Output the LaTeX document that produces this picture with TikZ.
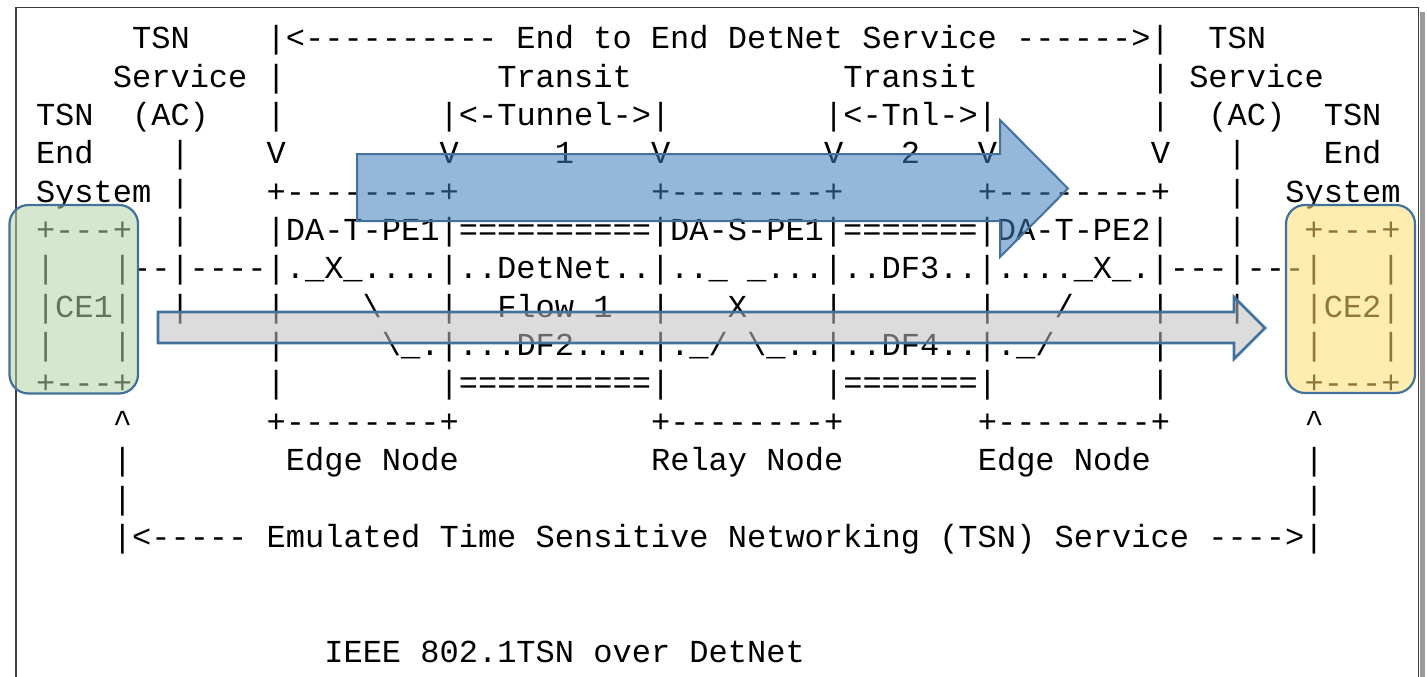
\documentclass[tikz,border=0pt]{standalone}
\usepackage{fontspec}
\setmonofont{Liberation Mono}
\definecolor{brd}{RGB}{65,113,156}
\definecolor{framec}{RGB}{60,60,60}
\definecolor{shadowc}{RGB}{155,155,155}
\definecolor{bluefill}{RGB}{62,126,188}
\definecolor{greyfill}{RGB}{192,192,192}
\definecolor{greenfill}{RGB}{179,213,164}
\definecolor{yellowfill}{RGB}{255,220,112}
\newcommand\gap[1]{\hspace*{\dimexpr#1\fontcharwd\font`A\relax}}
\tikzset{
  row/.style={anchor=base west, inner sep=0pt, outer sep=0pt,
    font=\ttfamily\fontsize{32.03}{38}\selectfont\frenchspacing},
  overlay/.style={draw=brd, line width=2.2pt, fill opacity=0.55, draw opacity=1},
}
\begin{document}
\begin{tikzpicture}[x=1pt,y=-1pt]
\useasboundingbox (0,0) rectangle (1427,677);
\clip (0,0) rectangle (1427,677);
% frame and shadow
\fill[shadowc] (1419.5,12) rectangle (1424.5,690);
\draw[framec, line width=1.5pt] (16,690) -- (16,7.5) -- (1418.5,7.5) -- (1418.5,690);
% text rows
\node[row] (r0) at (36,48.8) {\gap{5}TSN\gap{4}|<---------- End to End DetNet Service ------>|\gap{2}TSN};
\node[row] (r1) at (36,87.15) {\gap{4}Service\gap{1}|\gap{11}Transit\gap{11}Transit\gap{9}|\gap{1}Service};
\node[row] (r2) at (36,125.5) {TSN\gap{2}(AC)\gap{3}|\gap{8}|<-Tunnel->|\gap{8}|<-Tnl->|\gap{8}|\gap{2}(AC)\gap{2}TSN};
\node[row] (r3) at (36,163.85) {End\gap{4}|\gap{4}V\gap{8}V\gap{5}1\gap{4}V\gap{8}V\gap{3}2\gap{3}V\gap{8}V\gap{3}|\gap{4}End};
\node[row] (r4) at (36,202.2) {System\gap{1}|\gap{4}+--------+\gap{10}+--------+\gap{7}+--------+\gap{3}|\gap{2}System};
\node[row] (r5) at (36,240.55) {+---+\gap{2}|\gap{4}|DA-T-PE1|==========|DA-S-PE1|=======|DA-T-PE2|\gap{3}|\gap{3}+---+};
\node[row] (r6) at (36,278.9) {|\gap{3}|--|----|.\_X\_....|..DetNet..|..\_\gap{1}\_...|..DF3..|....\_X\_.|---|---|\gap{3}|};
\node[row] (r7) at (36,317.25) {|CE1|\gap{2}|\gap{4}|\gap{4}\textbackslash\gap{3}|\gap{2}Flow\gap{1}1\gap{2}|\gap{3}X\gap{4}|\gap{7}|\gap{3}/\gap{4}|\gap{3}|\gap{3}|CE2|};
\node[row] (r8) at (36,355.6) {|\gap{3}|\gap{7}|\gap{5}\textbackslash\_.|...DF2....|.\_/\gap{1}\textbackslash\_..|..DF4..|.\_/\gap{5}|\gap{7}|\gap{3}|};
\node[row] (r9) at (36,393.95) {+---+\gap{7}|\gap{8}|==========|\gap{8}|=======|\gap{8}|\gap{7}+---+};
\node[row] (r10) at (36,432.3) {\gap{4}\textasciicircum\gap{7}+--------+\gap{10}+--------+\gap{7}+--------+\gap{7}\textasciicircum};
\node[row] (r11) at (36,470.65) {\gap{4}|\gap{8}Edge\gap{1}Node\gap{10}Relay\gap{1}Node\gap{7}Edge\gap{1}Node\gap{8}|};
\node[row] (r12) at (36,509.0) {\gap{4}|\gap{61}|};
\node[row] (r13) at (36,547.35) {\gap{4}|<-----\gap{1}Emulated\gap{1}Time\gap{1}Sensitive\gap{1}Networking\gap{1}(TSN)\gap{1}Service\gap{1}---->|};
\node[row] (r16) at (36,662.4) {\gap{15}IEEE\gap{1}802.1TSN\gap{1}over\gap{1}DetNet};
% overlays
\draw[overlay, fill=bluefill, line width=2pt]
  (357,154) -- (1000,154) -- (1000,120) -- (1068,188.5) -- (1000,257) -- (1000,221) -- (357,221) -- cycle;
\draw[overlay, fill=greyfill, line width=2.6pt]
  (158,312) -- (1234,312) -- (1234,297) -- (1265,328) -- (1234,359) -- (1234,343) -- (158,343) -- cycle;
\draw[overlay, fill=greenfill, rounded corners=19pt] (9.5,205) rectangle (138,393.5);
\draw[overlay, fill=yellowfill, rounded corners=19pt] (1286,205) rectangle (1415,393);
\end{tikzpicture}
\end{document}
